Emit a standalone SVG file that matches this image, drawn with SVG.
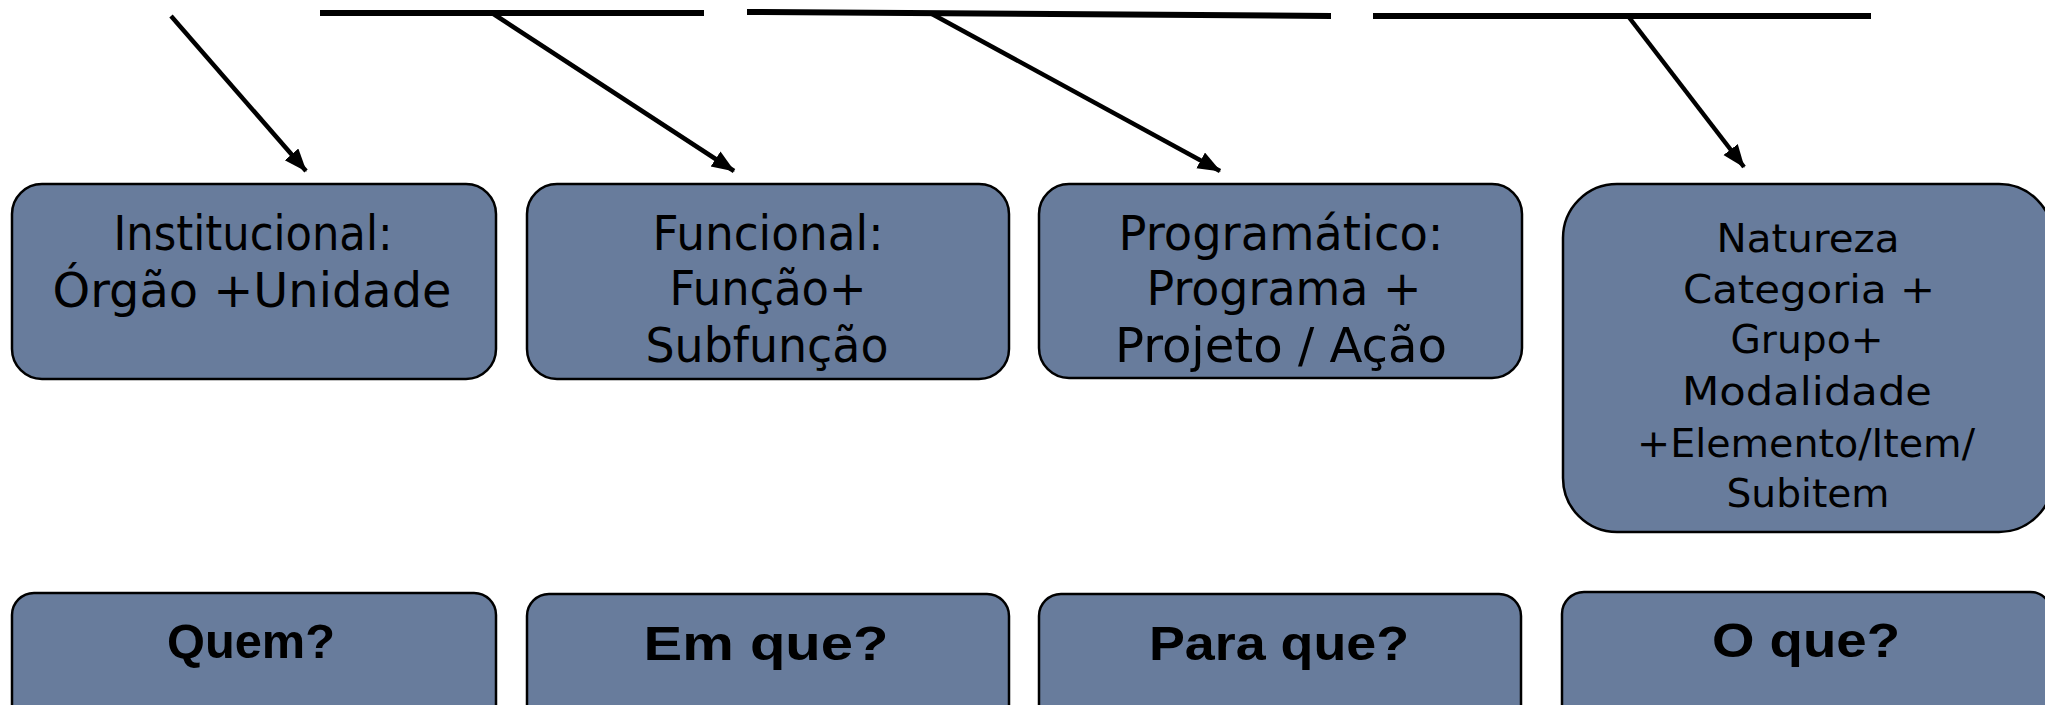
<svg xmlns="http://www.w3.org/2000/svg" width="2045" height="705" viewBox="0 0 2045 705">
<style>
.box{fill:#687c9c;stroke:#000;stroke-width:2.5}
.t{font-family:"DejaVu Sans",Verdana,sans-serif;fill:#000;text-anchor:middle}
.t1{font-size:48px}
.t4{font-size:39px}
.q{font-family:"Liberation Sans",Arial,sans-serif;font-weight:bold;font-size:49px;fill:#000;text-anchor:middle}
.bar{stroke:#000;stroke-width:6;fill:none}
.arr{stroke:#000;stroke-width:4.5;fill:none;marker-end:url(#ah)}
</style>
<defs>
<marker id="ah" markerUnits="userSpaceOnUse" markerWidth="26" markerHeight="20" refX="22" refY="9" orient="auto">
<path d="M0,0 L23,9 L0,18 Z" fill="#000"/>
</marker>
</defs>
<rect width="2045" height="705" fill="#fff"/>
<g id="connectors">
<line class="bar" x1="320" y1="13" x2="704" y2="13"/>
<line class="bar" x1="747" y1="12" x2="1331" y2="16"/>
<line class="bar" x1="1373" y1="16" x2="1871" y2="16"/>
<line class="arr" x1="171" y1="16" x2="306" y2="171"/>
<line class="arr" x1="492" y1="13" x2="734" y2="171"/>
<line class="arr" x1="932" y1="14" x2="1220" y2="171"/>
<line class="arr" x1="1628" y1="16" x2="1744" y2="167"/>
</g>
<g id="institucional">
<rect class="box" x="12" y="184" width="484" height="195" rx="30"/>
<text class="t t1" x="253" y="250" textLength="279" lengthAdjust="spacingAndGlyphs">Institucional:</text>
<text class="t t1" x="252" y="307" textLength="399" lengthAdjust="spacingAndGlyphs">Órgão +Unidade</text>
</g>
<g id="funcional">
<rect class="box" x="527" y="184" width="482" height="195" rx="30"/>
<text class="t t1" x="768" y="250" textLength="231" lengthAdjust="spacingAndGlyphs">Funcional:</text>
<text class="t t1" x="768" y="305" textLength="197" lengthAdjust="spacingAndGlyphs">Função+</text>
<text class="t t1" x="767" y="362" textLength="243" lengthAdjust="spacingAndGlyphs">Subfunção</text>
</g>
<g id="programatico">
<rect class="box" x="1039" y="184" width="483" height="194" rx="30"/>
<text class="t t1" x="1281" y="250" textLength="325" lengthAdjust="spacingAndGlyphs">Programático:</text>
<text class="t t1" x="1284" y="305" textLength="275" lengthAdjust="spacingAndGlyphs">Programa +</text>
<text class="t t1" x="1281" y="362" textLength="332" lengthAdjust="spacingAndGlyphs">Projeto / Ação</text>
</g>
<g id="natureza">
<rect class="box" x="1563" y="184" width="490" height="348" rx="54"/>
<text class="t t4" x="1808" y="252" textLength="183" lengthAdjust="spacingAndGlyphs">Natureza</text>
<text class="t t4" x="1809" y="303" textLength="252" lengthAdjust="spacingAndGlyphs">Categoria +</text>
<text class="t t4" x="1807" y="353" textLength="153" lengthAdjust="spacingAndGlyphs">Grupo+</text>
<text class="t t4" x="1807" y="405" textLength="250" lengthAdjust="spacingAndGlyphs">Modalidade</text>
<text class="t t4" x="1806" y="457" textLength="338" lengthAdjust="spacingAndGlyphs">+Elemento/Item/</text>
<text class="t t4" x="1808" y="507" textLength="163" lengthAdjust="spacingAndGlyphs">Subitem</text>
</g>
<g id="quem">
<rect class="box" x="12" y="593" width="484" height="140" rx="22"/>
<text class="q" x="251" y="658" textLength="168" lengthAdjust="spacingAndGlyphs">Quem?</text>
</g>
<g id="em-que">
<rect class="box" x="527" y="594" width="482" height="140" rx="22"/>
<text class="q" x="766" y="660" textLength="245" lengthAdjust="spacingAndGlyphs">Em que?</text>
</g>
<g id="para-que">
<rect class="box" x="1039" y="594" width="482" height="140" rx="22"/>
<text class="q" x="1279" y="660" textLength="260" lengthAdjust="spacingAndGlyphs">Para que?</text>
</g>
<g id="o-que">
<rect class="box" x="1562" y="592" width="490" height="140" rx="22"/>
<text class="q" x="1806" y="657" textLength="188" lengthAdjust="spacingAndGlyphs">O que?</text>
</g>
</svg>
